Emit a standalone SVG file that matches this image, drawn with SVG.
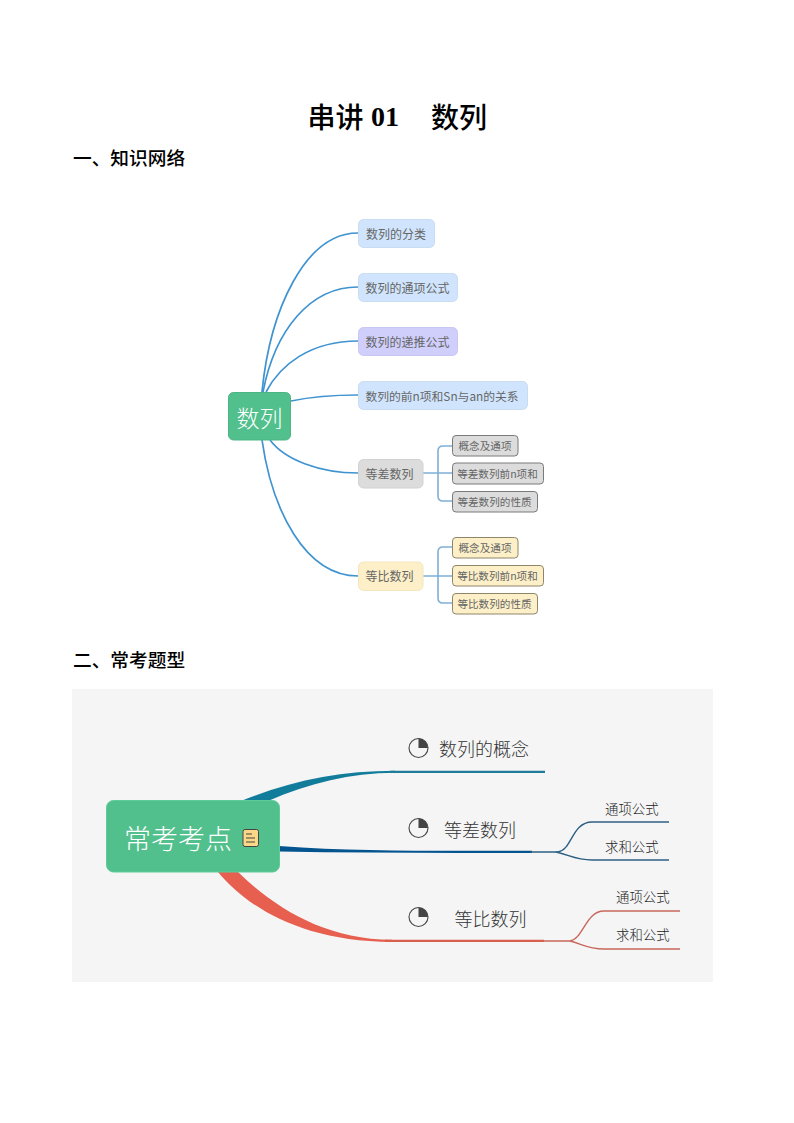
<svg xmlns="http://www.w3.org/2000/svg" width="794" height="1123" viewBox="0 0 794 1123">
<style>
text{font-family:"Noto Sans CJK SC","Noto Sans",sans-serif;}
.h{font-size:18.7px;font-weight:500;fill:#000;dominant-baseline:central}
.t{font-size:28px;font-weight:500;fill:#000;dominant-baseline:central}
.n{font-size:12px;font-weight:400;fill:#666;text-anchor:middle;dominant-baseline:central}
.s{font-size:10.6px;font-weight:400;fill:#666;text-anchor:middle;dominant-baseline:central}
.b{fill:#d0e5fd;stroke:#c8dcf2;stroke-width:1}
.p{fill:#d0cffc;stroke:#c8c7f2;stroke-width:1}
.g{fill:#dcdcdc;stroke:#d2d2d2;stroke-width:1}
.y{fill:#fdf0c8;stroke:#f2e6c0;stroke-width:1}
.sg{fill:#dcdcdc;stroke:#7a7a7a;stroke-width:1}
.sy{fill:#fdf0c8;stroke:#8f8568;stroke-width:1}
.c{fill:none;stroke:#3f93d0;stroke-width:1.7}
.f{fill:none;stroke:#7fb0d6;stroke-width:1.6}
.big{font-size:18px;font-weight:300;fill:#333;dominant-baseline:central}
.sm{font-size:13.4px;font-weight:300;fill:#222;dominant-baseline:central}
.pie{fill:none;stroke:#444;stroke-width:1.1}
.wd{fill:#444}
</style>
<rect width="794" height="1123" fill="#fff"/>
<g id="title">
<text class="t" x="307.500" y="116">串讲</text>
<text class="t" x="371" y="116" style="font-family:'Liberation Serif',serif;font-weight:700">01</text>
<text class="t" x="431" y="116">数列</text>
</g>
<text class="h" x="73" y="156.500">一、知识网络</text>
<text class="h" x="73" y="658.500">二、常考题型</text>

<g id="connectors-top">
<path class="c" d="M262 392C270 310 305 233 358 233"/>
<path class="c" d="M263 392C275 330 310 287 358 287"/>
<path class="c" d="M266 392C280 365 310 341 358 341"/>
<path class="c" d="M291 401C310 397 330 395 358 395"/>
<path class="c" d="M270 440C285 460 320 473 358 473"/>
<path class="c" d="M262 440C272 510 305 576 358 576"/>
<path class="f" d="M423 473H452M452 446H443Q438 446 438 451V496Q438 501 443 501H452M438 473H452"/>
<path class="f" d="M423 576H452M452 547H443Q438 547 438 552V598Q438 603 443 603H452M438 576H452"/>
</g>
<g id="n-root"><rect x="228.500" y="392.500" width="62" height="47.500" rx="5" fill="#52c08d" stroke="#4cb585"/><text x="259.500" y="417" font-size="23" font-weight="300" fill="#fff" text-anchor="middle" dominant-baseline="central">数列</text></g>
<g id="n1"><rect class="b" x="358.500" y="219.500" width="76" height="28" rx="5"/><text class="n" x="396" y="233">数列的分类</text></g>
<g id="n2"><rect class="b" x="358.500" y="273.500" width="99" height="28" rx="5"/><text class="n" x="407.500" y="287">数列的通项公式</text></g>
<g id="n3"><rect class="p" x="358.500" y="327.500" width="99" height="28" rx="5"/><text class="n" x="407.500" y="341">数列的递推公式</text></g>
<g id="n4"><rect class="b" x="358.500" y="381.500" width="169" height="28" rx="5"/><text class="n" x="442" y="395" style="font-size:11.800px">数列的前n项和Sn与an的关系</text></g>
<g id="n5"><rect class="g" x="358.500" y="459.500" width="64.500" height="28.500" rx="5"/><text class="n" x="389.500" y="473">等差数列</text></g>
<g id="n6"><rect class="y" x="358.500" y="562" width="64.500" height="28.500" rx="5"/><text class="n" x="389.500" y="575.500">等比数列</text></g>
<g id="n5a"><rect class="sg" x="452.500" y="435.500" width="65.500" height="20.500" rx="3.500"/><text class="s" x="485" y="445">概念及通项</text></g>
<g id="n5b"><rect class="sg" x="452.500" y="463" width="91" height="21" rx="3.500"/><text class="s" x="497.500" y="473">等差数列前n项和</text></g>
<g id="n5c"><rect class="sg" x="452.500" y="491.500" width="85" height="20.500" rx="3.500"/><text class="s" x="494.500" y="501">等差数列的性质</text></g>
<g id="n6a"><rect class="sy" x="452.500" y="537.500" width="65.500" height="20.500" rx="3.500"/><text class="s" x="485" y="547">概念及通项</text></g>
<g id="n6b"><rect class="sy" x="452.500" y="565.500" width="91" height="20.500" rx="3.500"/><text class="s" x="497.500" y="575">等比数列前n项和</text></g>
<g id="n6c"><rect class="sy" x="452.500" y="593.500" width="85" height="20.500" rx="3.500"/><text class="s" x="494.500" y="603">等比数列的性质</text></g>

<rect id="panel" x="72" y="689" width="641" height="293" fill="#f5f5f5"/>
<g id="connectors-bottom">
<path d="M241 801C290 781 340 770.800 395 770.800V772.800C350 773 310 783 268 801Z" fill="#127c9b"/>
<path d="M390 770.800H545V772.900H390Z" fill="#1f7d9b"/>
<path d="M279 846C340 850.500 400 850.800 460 850.800L532 850.800V852.900L460 852.900C400 852.900 340 852.500 279 851.500Z" fill="#04548f"/>
<path d="M218 872C245 905 300 942 392 942V939.800C325 939.500 275 908 238 872Z" fill="#e75f4f"/>
<path d="M385 939.800H544V941.900H385Z" fill="#d9604f"/>
<path d="M530 852H558C572 850 572 822 592 822H669" fill="none" stroke="#2d5f84" stroke-width="1.400"/>
<path d="M556 852C570 855 575 860 592 860H669" fill="none" stroke="#2d5f84" stroke-width="1.400"/>
<path d="M542 941H570C583 939 586 911 604 911H680" fill="none" stroke="#c8685b" stroke-width="1.400"/>
<path d="M570 941C582 944 588 949 604 949H680" fill="none" stroke="#c8685b" stroke-width="1.400"/>
</g>
<g id="m-root"><rect x="106.500" y="800.500" width="173" height="71.500" rx="7" fill="#52c08d" stroke="#5fcb99"/><text x="124" y="837" font-size="27" font-weight="300" fill="#fff" dominant-baseline="central">常考考点</text>
<rect x="243" y="829.500" width="15.500" height="17" rx="2" fill="#fbd788" stroke="#444" stroke-width="1"/><path d="M246 834H252M246 838H255M246 842H255" stroke="#444" stroke-width="1.100"/></g>
<g id="m1"><circle class="pie" cx="418.500" cy="748" r="9.500"/><path class="wd" d="M418.500 748V738.500A9.500 9.500 0 0 1 428 748Z"/><text class="big" x="439" y="748">数列的概念</text></g>
<g id="m2"><circle class="pie" cx="418.500" cy="828" r="9.500"/><path class="wd" d="M418.500 828V818.500A9.500 9.500 0 0 1 428 828Z"/><text class="big" x="444" y="828.500">等差数列</text></g>
<g id="m3"><circle class="pie" cx="418.500" cy="917" r="9.500"/><path class="wd" d="M418.500 917V907.500A9.500 9.500 0 0 1 428 917Z"/><text class="big" x="454.500" y="917.500">等比数列</text></g>
<g id="m2a"><text class="sm" x="605" y="807.500">通项公式</text></g>
<g id="m2b"><text class="sm" x="605" y="845.500">求和公式</text></g>
<g id="m3a"><text class="sm" x="616" y="896">通项公式</text></g>
<g id="m3b"><text class="sm" x="616" y="934">求和公式</text></g>
</svg>
